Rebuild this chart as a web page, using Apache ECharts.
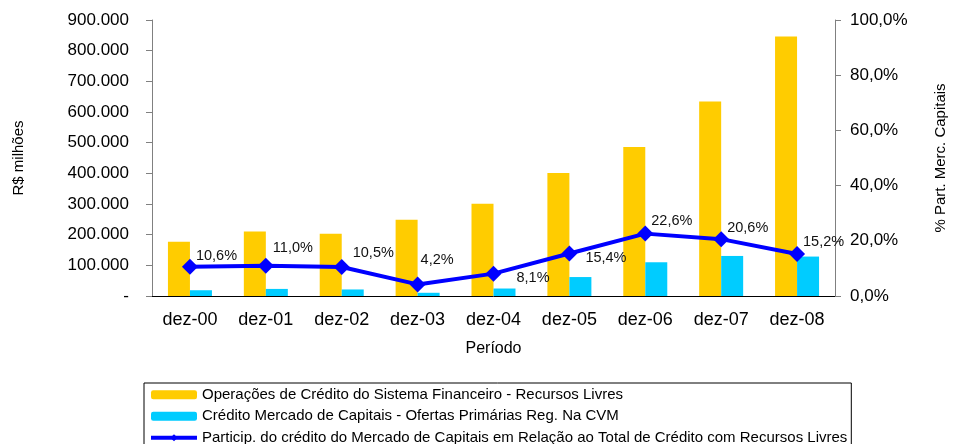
<!DOCTYPE html>
<html>
<head>
<meta charset="utf-8">
<script src="https://cdn.jsdelivr.net/npm/echarts@6/dist/echarts.min.js"></script>
<style>
  html, body { margin: 0; padding: 0; background: #fff; }
  #chart { width: 956px; height: 444px; }
</style>
</head>
<body>
<div id="chart"></div>
<script>
// periodos
const periodos = ['dez-00', 'dez-01', 'dez-02', 'dez-03', 'dez-04', 'dez-05', 'dez-06', 'dez-07', 'dez-08']

// R$ milhoes
const recursosLivres = [177000, 210000, 203000, 249000, 301000, 401000, 486000, 634000, 846000]
const mercadoCapitais = [18800, 23100, 21300, 10500, 24400, 61800, 110000, 130600, 128600]

// % participacao
const participacao = [10.6, 11.0, 10.5, 4.2, 8.1, 15.4, 22.6, 20.6, 15.2]

const nomes = [
  'Operações de Crédito do Sistema Financeiro - Recursos Livres',
  'Crédito Mercado de Capitais - Ofertas Primárias Reg. Na CVM',
  'Particip. do crédito do Mercado de Capitais em Relação ao Total de Crédito com Recursos Livres'
]

const fonte = 'Arial, "Liberation Sans", sans-serif'

// deslocamento dos rotulos em relacao ao marcador
const deslocRotulo = [[-2, -11], [-1, -18], [3, -14], [-5, -24], [15, 4], [8, 5], [-2, -13], [-2, -11], [-2, -12]]

const fmtMilhar = (v) => {
  if (v === 0) return '-'
  return String(v).replace(/\B(?=(\d{3})+(?!\d))/g, '.')
}
const fmtPct = (v) => v.toFixed(1).replace('.', ',') + '%'

const chart = echarts.init(document.getElementById('chart'))

const option = {
  animation: false,
  textStyle: { fontFamily: fonte, color: '#000' },
  grid: { left: 152, right: 116, top: 20, bottom: 148 },
  legend: {
    orient: 'vertical',
    left: 144,
    top: 383,
    height: 200,
    padding: [4, 4, 5, 5],
    itemGap: 6,
    itemWidth: 46,
    itemHeight: 9,
    borderColor: '#000',
    borderWidth: 1,
    borderRadius: 0,
    textStyle: { fontSize: 15, color: '#000', fontFamily: fonte, lineHeight: 15.5 },
    data: [
      { name: nomes[0] },
      { name: nomes[1] },
      { name: nomes[2], lineStyle: { width: 4 } }
    ]
  },
  xAxis: {
    type: 'category',
    data: periodos,
    name: 'Período',
    nameLocation: 'middle',
    nameGap: 45,
    nameTextStyle: { fontSize: 16, color: '#000' },
    axisLine: { lineStyle: { color: '#000', width: 1 } },
    axisTick: { length: 6, lineStyle: { color: '#000' } },
    axisLabel: { fontSize: 18, color: '#000', margin: 15 }
  },
  yAxis: [
    {
      type: 'value',
      min: 0,
      max: 900000,
      interval: 100000,
      name: 'R$ milhões',
      nameLocation: 'middle',
      nameRotate: 90,
      nameGap: 126,
      nameTextStyle: { fontSize: 15, color: '#000' },
      axisLine: { show: true, lineStyle: { color: '#808080' } },
      axisTick: { show: true, length: 6, lineStyle: { color: '#808080' } },
      splitLine: { show: false },
      axisLabel: { fontSize: 17, color: '#000', margin: 23, formatter: fmtMilhar }
    },
    {
      type: 'value',
      min: 0,
      max: 100,
      interval: 20,
      position: 'right',
      name: '% Part. Merc. Capitais',
      nameLocation: 'middle',
      nameRotate: 90,
      nameGap: 98,
      nameTextStyle: { fontSize: 15, color: '#000' },
      axisLine: { show: true, lineStyle: { color: '#808080' } },
      axisTick: { show: true, length: 6, lineStyle: { color: '#808080' } },
      splitLine: { show: false },
      axisLabel: { fontSize: 17, color: '#000', margin: 15, formatter: fmtPct }
    }
  ],
  series: [
    {
      name: nomes[0],
      type: 'bar',
      data: recursosLivres,
      barWidth: 22,
      barGap: '0%',
      itemStyle: { color: '#FFCC00' }
    },
    {
      name: nomes[1],
      type: 'bar',
      data: mercadoCapitais,
      barWidth: 22,
      itemStyle: { color: '#00CCFF' }
    },
    {
      name: nomes[2],
      type: 'line',
      yAxisIndex: 1,
      data: participacao.map((v, i) => ({
        value: v,
        label: { offset: deslocRotulo[i] }
      })),
      symbol: 'diamond',
      symbolSize: 16,
      lineStyle: { color: '#0000FF', width: 4 },
      itemStyle: { color: '#0000FF' },
      label: {
        show: true,
        position: 'right',
        distance: 0,
        fontSize: 14.5,
        color: '#111',
        formatter: (p) => fmtPct(p.value)
      },
      z: 5
    }
  ]
}

chart.setOption(option)
</script>
</body>
</html>
